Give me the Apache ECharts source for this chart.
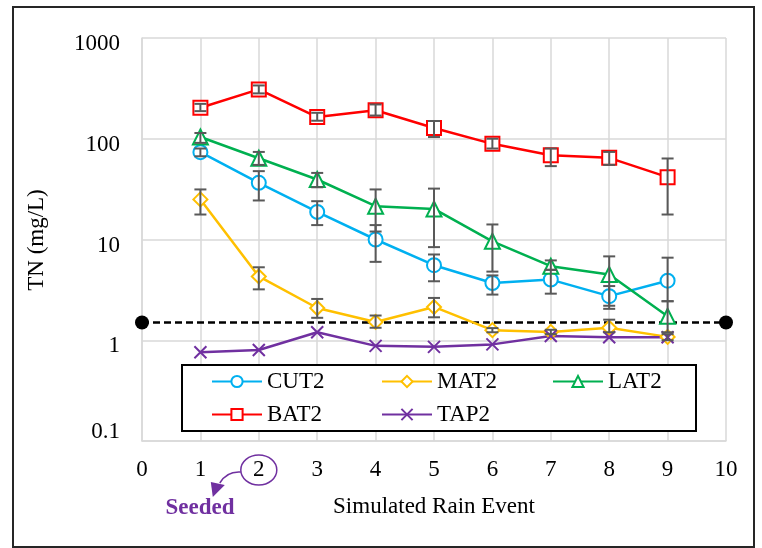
<!DOCTYPE html>
<html>
<head>
<meta charset="utf-8">
<script src="https://cdn.jsdelivr.net/npm/echarts@6/dist/echarts.min.js"></script>
<style>
  html, body { margin: 0; padding: 0; background: #fff; }
  #chart { width: 762px; height: 548px; }
</style>
</head>
<body>
<div id="chart"></div>
<script>
// Rain events on the x axis
const events = [1, 2, 3, 4, 5, 6, 7, 8, 9];

// Mean TN concentration (mg/L) per column
const cut2 = [73.6, 36.5, 18.8, 10.0, 5.56, 3.7, 4.0, 2.74, 3.9];
const mat2 = [25, 4.3, 2.09, 1.52, 2.14, 1.26, 1.21, 1.33, 1.08];
const lat2 = [104, 64, 39.4, 21.4, 20.1, 9.6, 5.43, 4.5, 1.73];
const bat2 = [203, 309, 164, 192, 128, 89, 68.7, 64.6, 41.6];
const tap2 = [0.76, 0.8, 1.2, 0.88, 0.86, 0.91, 1.1, 1.07, 1.07];

// Error bar limits (low / high)
const cut2Low  = [67, 24.4, 13.9, 6.0, 3.85, 2.84, 2.9, 2.05, 2.44];
const cut2High = [80, 47.7, 24, 13.9, 7.1, 4.4, 5.0, 3.45, 6.6];
const mat2Low  = [17.7, 3.2, 1.67, 1.33, 1.69, 1.2, 1.15, 1.2, 1.0];
const mat2High = [31.4, 5.3, 2.57, 1.76, 2.63, 1.32, 1.27, 1.6, 1.15];
const lat2Low  = [91, 55, 33, 12, 8.4, 4.8, 5.0, 2.2, 1.2];
const lat2High = [114, 74, 45.8, 31.4, 32, 14.1, 6.2, 6.8, 2.44];
const bat2Low  = [188, 282, 151, 170, 104, 80, 53.5, 55, 17.7];
const bat2High = [222, 338, 181, 219, 150, 100, 80, 74, 63.7];

// Reference threshold line
const thresholdX = [0, 10];
const thresholdY = 1.5;

// Axis ticks
const yTicks = [0.1, 1, 10, 100, 1000];
const seededEvent = 2;

const FONT = '"Liberation Serif", "Times New Roman", serif';
const FS = 23;
const colors = {
  CUT2: '#00B0F0', MAT2: '#FFC000', LAT2: '#00B050', BAT2: '#FF0000', TAP2: '#7030A0'
};

const zip = (vals) => events.map((x, i) => [x, vals[i]]);
const bars = (lo, hi) => events.map((x, i) => [x, lo[i], hi[i]]);

function lineSeries(name, vals, symbol, size) {
  return {
    name, type: 'line', data: zip(vals), symbol, symbolSize: size,
    z: 3,
    lineStyle: { color: colors[name], width: 2.5 },
    itemStyle: { color: colors[name], borderColor: colors[name], borderWidth: 2 },
    emphasis: { disabled: true }
  };
}

function errorSeries(lo, hi) {
  return {
    type: 'custom', z: 4, silent: true,
    data: bars(lo, hi),
    renderItem(params, api) {
      const a = api.coord([api.value(0), api.value(1)]);
      const b = api.coord([api.value(0), api.value(2)]);
      const w = 6;
      const st = { stroke: '#595959', lineWidth: 2 };
      return {
        type: 'group',
        children: [
          { type: 'line', shape: { x1: a[0], y1: a[1], x2: b[0], y2: b[1] }, style: st },
          { type: 'line', shape: { x1: a[0] - w, y1: a[1], x2: a[0] + w, y2: a[1] }, style: st },
          { type: 'line', shape: { x1: b[0] - w, y1: b[1], x2: b[0] + w, y2: b[1] }, style: st }
        ]
      };
    }
  };
}

// One legend block per entry, laid out as a 3-column grid
function legendItem(name, left, top) {
  return {
    data: [name], left, top, padding: 0,
    itemWidth: 50, itemHeight: 14,
    textStyle: { fontFamily: FONT, fontSize: FS, color: '#000' },
    selectedMode: false, z: 10
  };
}

const chart = echarts.init(document.getElementById('chart'), null, { renderer: 'canvas' });

const crossPath = 'path://M0,0L10,10M10,0L0,10';

chart.setOption({
  animation: false,
  backgroundColor: '#fff',
  textStyle: { fontFamily: FONT },
  grid: { left: 142, top: 38, right: 36, bottom: 107, containLabel: false },
  xAxis: {
    type: 'value', min: 0, max: 10, interval: 1,
    name: 'Simulated Rain Event', nameLocation: 'middle', nameGap: 54,
    nameTextStyle: { fontFamily: FONT, fontSize: FS, color: '#000' },
    axisLine: { show: true, lineStyle: { color: '#d9d9d9', width: 1.5 } },
    axisTick: { show: false },
    axisLabel: { margin: 17, fontFamily: FONT, fontSize: FS, color: '#000' },
    splitLine: { show: true, lineStyle: { color: '#d9d9d9', width: 1.5 } }
  },
  yAxis: {
    type: 'log', logBase: 10, min: yTicks[0], max: yTicks[yTicks.length - 1],
    axisLine: { show: true, lineStyle: { color: '#d9d9d9', width: 1.5 } },
    axisTick: { show: false },
    axisLabel: {
      margin: 22, fontFamily: FONT, fontSize: FS, color: '#000',
      formatter: (v) => {
        const s = String(+v.toPrecision(3));
        return v < 1 ? '{lo|' + s + '}' : '{n|' + s + '}';
      },
      rich: {
        n:  { fontFamily: FONT, fontSize: FS, color: '#000', padding: [12, 0, 0, 0] },
        lo: { fontFamily: FONT, fontSize: FS, color: '#000', padding: [0, 0, 18, 0] }
      }
    },
    splitLine: { show: true, lineStyle: { color: '#d9d9d9', width: 1.5 } }
  },
  legend: [
    legendItem('CUT2', 211, 370),
    legendItem('MAT2', 381, 370),
    legendItem('LAT2', 552, 370),
    legendItem('BAT2', 211, 403),
    legendItem('TAP2', 381, 403)
  ],
  series: [
    {
      type: 'line', name: 'threshold', data: thresholdX.map(x => [x, thresholdY]),
      symbol: 'circle', symbolSize: 14, z: 2,
      lineStyle: { color: '#000', width: 2.5, type: [7, 4] },
      itemStyle: { color: '#000' }
    },
    lineSeries('CUT2', cut2, 'emptyCircle', 14),
    lineSeries('MAT2', mat2, 'emptyDiamond', 14),
    lineSeries('LAT2', lat2, 'emptyTriangle', 15),
    lineSeries('BAT2', bat2, 'emptyRect', 14),
    lineSeries('TAP2', tap2, crossPath, 12),
    errorSeries(cut2Low, cut2High),
    errorSeries(mat2Low, mat2High),
    errorSeries(lat2Low, lat2High),
    errorSeries(bat2Low, bat2High)
  ]
});

// Annotations: frame, legend box, y axis title, "Seeded" callout
const p = chart.convertToPixel({ xAxisIndex: 0, yAxisIndex: 0 }, [seededEvent, yTicks[0]]);
const cx = p[0], cy = p[1] + 29;
chart.setOption({
  graphic: [
    { type: 'rect', z: 0, silent: true,
      shape: { x: 13, y: 7, width: 741, height: 540 },
      style: { fill: null, stroke: '#262626', lineWidth: 2 } },
    { type: 'rect', z: 5, silent: true,
      shape: { x: 182, y: 365, width: 514, height: 66 },
      style: { fill: '#fff', stroke: '#000', lineWidth: 2 } },
    { type: 'text', z: 5, silent: true,
      x: 37, y: 240, rotation: Math.PI / 2,
      style: { text: 'TN (mg/L)', font: FS + 'px ' + FONT, fill: '#000', align: 'center', verticalAlign: 'middle' } },
    { type: 'ellipse', z: 5, silent: true,
      shape: { cx: cx, cy: cy, rx: 18, ry: 15 },
      style: { fill: null, stroke: '#7030A0', lineWidth: 1.5 } },
    { type: 'bezierCurve', z: 5, silent: true,
      shape: { x1: cx - 18, y1: cy + 2, cpx1: cx - 32, cpy1: cy + 1, x2: cx - 39, y2: cy + 13 },
      style: { fill: null, stroke: '#7030A0', lineWidth: 1.5 } },
    { type: 'polygon', z: 5, silent: true,
      shape: { points: [[cx - 48, cy + 12], [cx - 34, cy + 15], [cx - 46, cy + 27]] },
      style: { fill: '#7030A0' } },
    { type: 'text', z: 5, silent: true,
      x: 200, y: cy + 38,
      style: { text: 'Seeded', font: 'bold ' + FS + 'px ' + FONT, fill: '#7030A0', align: 'center', verticalAlign: 'middle' } }
  ]
});
</script>
</body>
</html>
